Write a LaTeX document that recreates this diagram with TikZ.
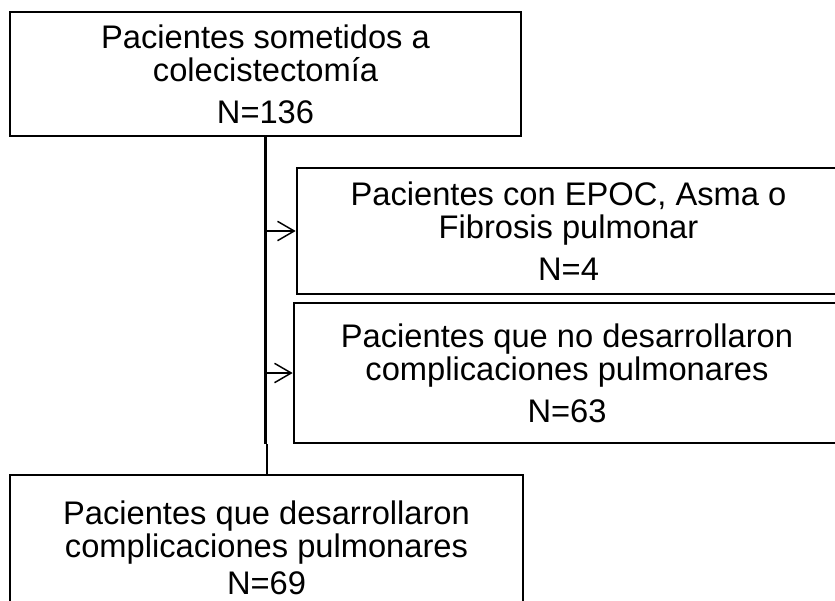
\documentclass[tikz,border=0pt]{standalone}
\usepackage{fontspec}
\setmainfont{Liberation Sans}
\usetikzlibrary{arrows.meta}

\tikzset{
  caja/.style={draw, line width=2pt, rectangle, align=center, inner sep=0pt,
    font=\fontsize{24.5}{24.75}\selectfont},
  flecha/.style={line width=1.1pt, -{Straight Barb[length=12.5pt,width=14.5pt,line width=1.1pt]}},
  tronco/.style={line width=2pt}
}

\begin{document}
\begin{tikzpicture}[x=0.75pt,y=0.75pt,yscale=-1,xscale=1]
\useasboundingbox (0,0) rectangle (835,600);
\clip (0,0) rectangle (835,600);

%Shape: Rectangle (cohorte)
\node (cohorte) [caja, minimum width=383.25pt, minimum height=93pt] at (265.5,74)
  {Pacientes sometidos a\\colecistectom\'ia\\[6.75pt]N=136};

%Shape: Rectangle (excluidos)
\node (excluidos) [caja, minimum width=407.25pt, minimum height=94.5pt] at (568.5,231)
  {Pacientes con EPOC, Asma o\\Fibrosis pulmonar\\[6.75pt]N=4};

%Shape: Rectangle (sin complicaciones)
\node (sincompl) [caja, minimum width=409.5pt, minimum height=105pt] at (567,373)
  {Pacientes que no desarrollaron\\complicaciones pulmonares\\[6.75pt]N=63};

%Shape: Rectangle (con complicaciones)
\node (concompl) [caja, minimum width=384.75pt, minimum height=109.5pt] at (266.5,548)
  {Pacientes que desarrollaron\\complicaciones pulmonares\\[3pt]N=69};

%Straight Lines
\draw [tronco] (cohorte.south) -- (cohorte.south |- sincompl.south) ;
\draw [tronco] ([xshift=1pt]cohorte.south |- sincompl.south) -- ([xshift=1pt]cohorte.south |- concompl.north) ;
\draw [flecha] (cohorte.south |- excluidos.west) -- (excluidos.west) ;
\draw [flecha] (cohorte.south |- sincompl.west) -- (sincompl.west) ;

\end{tikzpicture}
\end{document}
